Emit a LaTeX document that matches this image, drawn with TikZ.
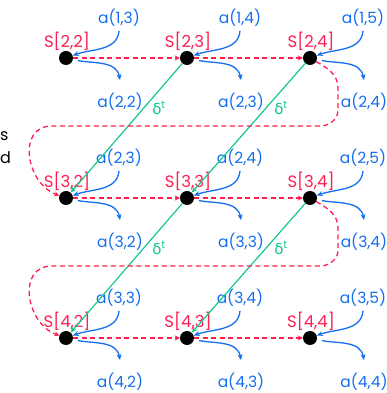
\documentclass[tikz,border=0pt]{standalone}
\usepackage{fontspec}
\setmainfont{Poppins}
\newfontfamily\gkfont{DejaVu Sans}
\usetikzlibrary{arrows.meta,calc}
\definecolor{blueA}{HTML}{146EF0}
\definecolor{redA}{HTML}{FF1E50}
\definecolor{greenA}{HTML}{14C88C}
\begin{document}
\begin{tikzpicture}[x=1pt,y=1pt,
  dot/.style={circle,fill=black,minimum size=14pt,inner sep=0pt},
  slab/.style={text=redA,font=\fontsize{16.5}{18}\selectfont,inner sep=0pt},
  alab/.style={text=blueA,font=\fontsize{15.5}{18}\selectfont,inner sep=0pt},
  dlab/.style={text=greenA,font=\fontsize{15}{18}\selectfont,inner sep=0pt},
  frag/.style={text=black,font=\fontsize{16}{18}\selectfont,inner sep=0pt,anchor=west},
  inarr/.style={draw=blueA,line width=1.3pt,-{Stealth[length=6pt,width=5pt]}},
  outarr/.style={draw=blueA,line width=1.3pt,shorten <=5pt,-{Stealth[length=6pt,width=5pt]}},
  hdash/.style={draw=redA,line width=1.3pt,dash pattern=on 5pt off 3.5pt,-{Stealth[length=5pt,width=5pt]}},
  gline/.style={draw=greenA,line width=1.2pt,-{Stealth[length=6pt,width=5pt]}},
]
\useasboundingbox (0,0) rectangle (387,393);

\node[frag] (fs) at (0,257) {s};
\node[frag] (fd) at (0,235) {d};

\foreach \r/\Y in {2/335,3/195,4/55} {
  \foreach \c/\X in {2/66,3/187,4/310} {
    \pgfmathtruncatemacro\rp{\r-1}
    \pgfmathtruncatemacro\cp{\c+1}
    \node[dot] (s\r\c) at (\X,\Y) {};
    \node[slab] (S\r\c) at (\X+1,\Y+17) {S[\r,\c]};
    \node[alab] (in\r\c) at (\X+53,\Y+40) {a(\rp,\cp)};
    \node[alab] (out\r\c) at (\X+54,\Y-44) {a(\r,\c)};
    \draw[inarr] ([yshift=-4pt]in\r\c.south) to[out=-95,in=20] (s\r\c);
    \draw[outarr] (s\r\c) to[out=-12,in=100] ([yshift=13pt]out\r\c.north);
  }
  \draw[hdash] (s\r2) -- (s\r3);
  \draw[hdash] (s\r3) -- (s\r4);
}

% green diagonals
\draw[gline] (s23) -- (s32);
\draw[gline] (s24) -- (s33);
\draw[gline] (s33) -- (s42);
\draw[gline] (s34) -- (s43);
\node[dlab] (d1) at (159,285) {{\gkfont δ}\textsuperscript{t}};
\node[dlab] (d2) at (281,285) {{\gkfont δ}\textsuperscript{t}};
\node[dlab] (d3) at (159,145) {{\gkfont δ}\textsuperscript{t}};
\node[dlab] (d4) at (281,145) {{\gkfont δ}\textsuperscript{t}};

% wrap-around dashed paths
\foreach \r/\n/\Y in {2/3/335,3/4/195} {
  \coordinate (wa\r) at (338,\Y-30);
  \coordinate (wb\r) at (338,\Y-52);
  \coordinate (wc\r) at (320,\Y-68);
  \coordinate (wd\r) at (52,\Y-68);
  \draw[hdash] (s\r4) to[out=-30,in=90] (wa\r) -- (wb\r) to[out=-90,in=0] (wc\r) -- (wd\r) to[out=180,in=160,looseness=1.3] (s\n2);
}
\end{tikzpicture}
\end{document}
